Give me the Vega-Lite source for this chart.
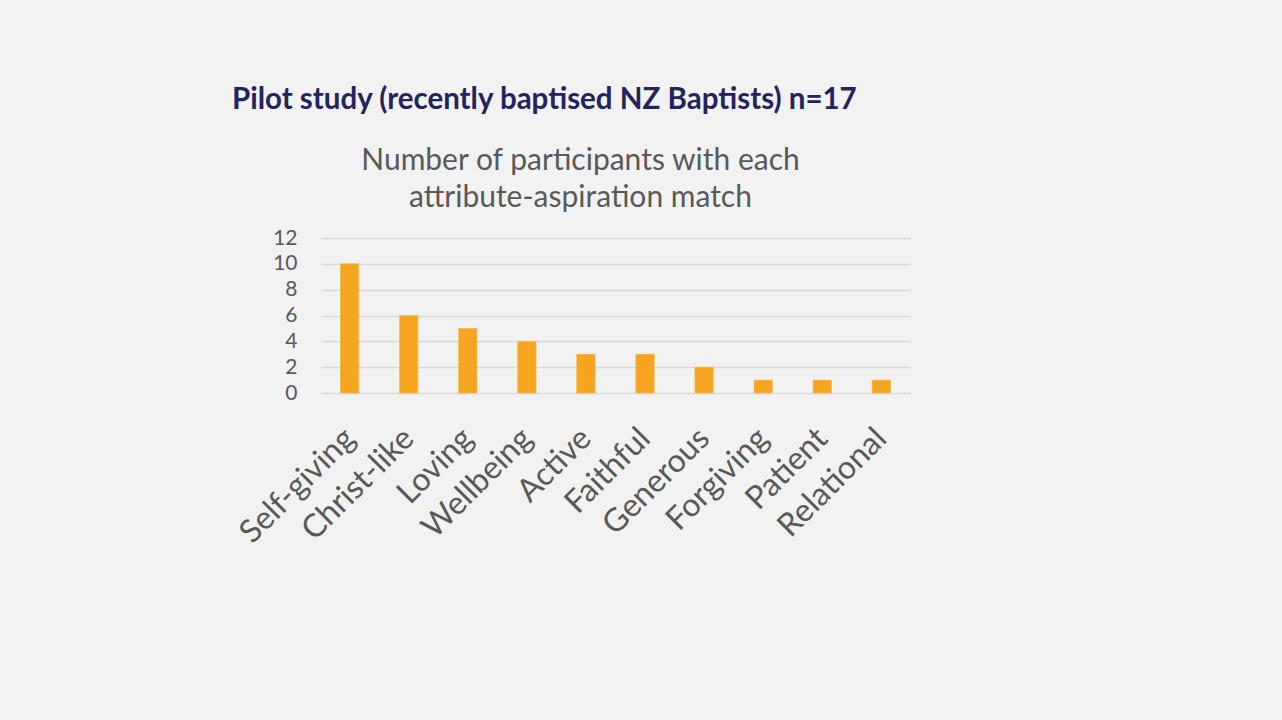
{
  "$schema": "https://vega.github.io/schema/vega-lite/v6.json",
  "autosize": {"type": "none"},
  "width": 589,
  "height": 155,
  "padding": {"left": 321, "top": 238, "right": 372, "bottom": 327},
  "background": "#f2f2f2",
  "config": {"view": {"stroke": null}, "font": "Lato"},
  "title": {
    "text": "Pilot study (recently baptised NZ Baptists) n=17",
    "anchor": "start",
    "frame": "group",
    "dx": -89,
    "font": "Lato",
    "fontSize": 29.5,
    "fontWeight": "bold",
    "color": "#25235e",
    "baseline": "alphabetic",
    "offset": 7
  },
  "data": {
    "values": [
      {"attribute": "Self-giving", "count": 10},
      {"attribute": "Christ-like", "count": 6},
      {"attribute": "Loving", "count": 5},
      {"attribute": "Wellbeing", "count": 4},
      {"attribute": "Active", "count": 3},
      {"attribute": "Faithful", "count": 3},
      {"attribute": "Generous", "count": 2},
      {"attribute": "Forgiving", "count": 1},
      {"attribute": "Patient", "count": 1},
      {"attribute": "Relational", "count": 1}
    ]
  },
  "resolve": {"axis": {"x": "independent"}},
  "layer": [
    {
      "mark": {"type": "bar", "color": "#f5a520", "stroke": "#f7b84f", "strokeWidth": 0.8},
      "encoding": {
        "x": {
          "field": "attribute",
          "type": "nominal",
          "sort": null,
          "scale": {"paddingInner": 0.69, "paddingOuter": 0.33},
          "axis": {
            "title": null,
            "orient": "bottom",
            "domain": false,
            "ticks": false,
            "labelAngle": -45,
            "labelAlign": "right",
            "labelBaseline": "middle",
            "labelPadding": 40,
            "labelOffset": 0,
            "labelOverlap": false,
            "labelFont": "Lato",
            "labelFontSize": 32,
            "labelColor": "#595959"
          }
        },
        "y": {
          "field": "count",
          "type": "quantitative",
          "scale": {"domain": [0, 12], "nice": false},
          "axis": {
            "title": null,
            "values": [0, 2, 4, 6, 8, 10, 12],
            "domain": false,
            "ticks": false,
            "grid": true,
            "gridColor": "#d9d9d9",
            "gridWidth": 1.3,
            "labelOverlap": false,
            "labelPadding": 24,
            "labelFont": "Lato",
            "labelFontSize": 21,
            "labelColor": "#595959"
          }
        }
      }
    },
    {
      "mark": {"type": "bar", "opacity": 0},
      "encoding": {
        "x": {
          "field": "attribute",
          "type": "nominal",
          "sort": null,
          "axis": {
            "orient": "top",
            "title": ["Number of participants with each", "attribute-aspiration match"],
            "titleFont": "Lato",
            "titleFontSize": 30,
            "titleFontWeight": "normal",
            "titleColor": "#595959",
            "titleLineHeight": 37,
            "titleX": 259,
            "titleY": -93,
            "titleBaseline": "top",
            "labels": false,
            "ticks": false,
            "domain": false,
            "grid": false
          }
        }
      }
    }
  ]
}
